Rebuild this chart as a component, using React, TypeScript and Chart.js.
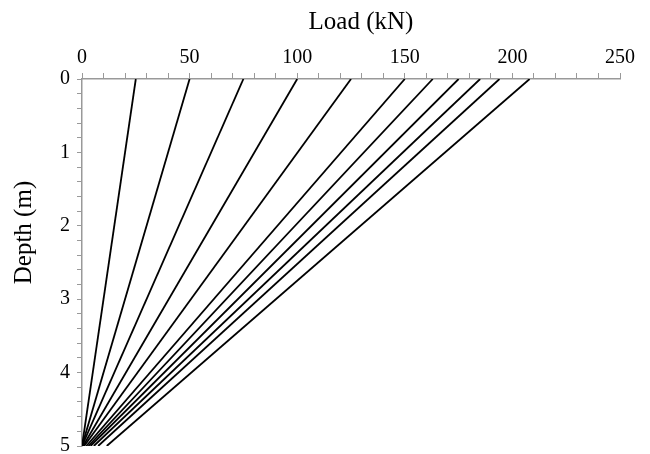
import React, { useEffect, useRef } from "react";
import { Chart, registerables } from "chart.js";

Chart.register(...registerables);

// Load at the top (depth 0 m) and at the bottom (depth 5 m) of each line, kN
const topLoads = [25, 50, 75, 100, 125, 150, 163, 175, 185, 194, 208];
const bottomLoads = [0, 0, 0, 0.5, 1, 2, 3, 4, 5.5, 7.5, 11.5];
const depthTop = 0;
const depthBottom = 5;
const xTitle = "Load (kN)";
const yTitle = "Depth (m)";
const xMajor = [0, 50, 100, 150, 200, 250];
const yMajor = [0, 1, 2, 3, 4, 5];

const FONT = "'Liberation Serif', 'Times New Roman', serif";

const titlePlugin = {
  id: "axisTitles",
  afterDraw(chart: any) {
    const ctx = chart.ctx;
    ctx.save();
    ctx.fillStyle = "#000";
    ctx.font = `25px ${FONT}`;
    ctx.textAlign = "center";
    ctx.textBaseline = "middle";
    const area = chart.chartArea;
    ctx.fillText(xTitle, (area.left + area.right) / 2 + 10, 22);
    ctx.translate(24, (area.top + area.bottom) / 2 - 30);
    ctx.rotate(-Math.PI / 2);
    ctx.fillText(yTitle, 0, 0);
    ctx.restore();
  },
};

export default function App() {
  const ref = useRef<HTMLCanvasElement | null>(null);
  useEffect(() => {
    if (!ref.current) return;
    const datasets = topLoads.map((t, i) => ({
      label: `L${i + 1}`,
      data: [
        { x: t, y: depthTop },
        { x: bottomLoads[i], y: depthBottom },
      ],
      showLine: true,
      borderColor: "#000",
      borderWidth: 1.8,
      pointRadius: 0,
      fill: false,
    }));
    const chart = new Chart(ref.current, {
      type: "scatter",
      data: { datasets },
      plugins: [titlePlugin],
      options: {
        animation: false,
        responsive: false,
        layout: { padding: { left: 0, top: 0, right: 30, bottom: 8 } },
        plugins: { legend: { display: false }, tooltip: { enabled: false } },
        scales: {
          x: {
            type: "linear",
            position: "top",
            min: 0,
            max: 250,
            afterFit: (s: any) => {
              s.height = 79;
              s.paddingLeft = 0;
              s.paddingRight = 0;
            },
            ticks: {
              stepSize: 10,
              autoSkip: false,
              maxRotation: 0,
              padding: 3,
              color: "#000",
              font: { family: FONT, size: 20 },
              callback: (v: any) => (xMajor.includes(Number(v)) ? String(v) : ""),
            },
            grid: {
              drawOnChartArea: false,
              drawTicks: true,
              tickLength: 6,
              tickColor: "#999",
              color: "#999",
            },
            border: { color: "#999", width: 1.5 },
          },
          y: {
            type: "linear",
            reverse: true,
            min: 0,
            max: 5,
            afterFit: (s: any) => {
              s.width = 82;
              s.paddingTop = 0;
              s.paddingBottom = 0;
            },
            ticks: {
              stepSize: 0.2,
              autoSkip: false,
              padding: 7,
              color: "#000",
              font: { family: FONT, size: 20 },
              callback: (v: any) => {
                const n = Number(v);
                const r = Math.round(n);
                return Math.abs(n - r) < 1e-6 && yMajor.includes(r) ? String(r) : "";
              },
            },
            grid: {
              drawOnChartArea: false,
              drawTicks: true,
              tickLength: 5,
              tickColor: "#999",
              color: "#999",
            },
            border: { color: "#999", width: 1.5 },
          },
        },
      },
    });
    return () => chart.destroy();
  }, []);
  return (
    <div style={{ position: "absolute", left: 0, top: 0, width: 650, height: 454, background: "#fff" }}>
      <canvas ref={ref} width={650} height={454} style={{ width: 650, height: 454 }} />
    </div>
  );
}
